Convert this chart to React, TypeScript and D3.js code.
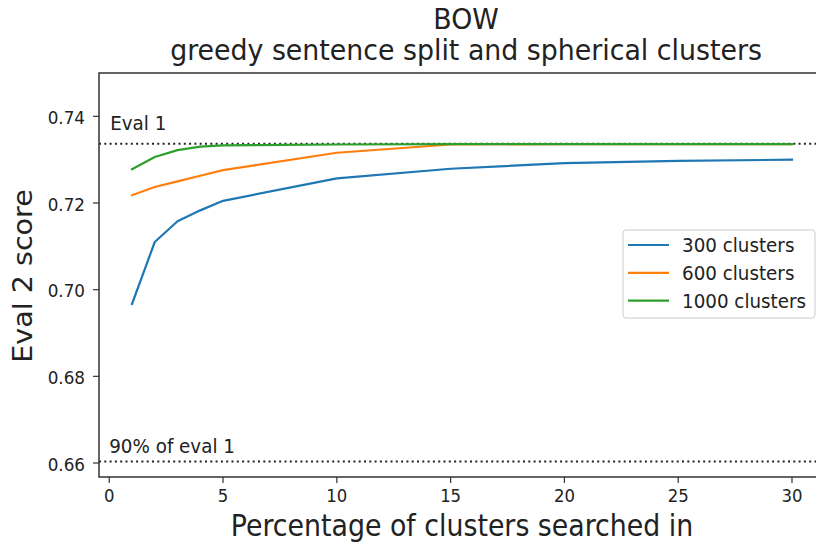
import React from "react";
import * as d3 from "d3";

const xs300 = [1, 2, 3, 4, 5, 10, 15, 20, 25, 30];
const ys300 = [0.6967, 0.7110, 0.7158, 0.7183, 0.7205, 0.7257, 0.7279, 0.7292, 0.7297, 0.7300];
const xs600 = [1, 2, 3, 4, 5, 10, 15, 20, 25, 30];
const ys600 = [0.7218, 0.7237, 0.7250, 0.7263, 0.7276, 0.7316, 0.7335, 0.7336, 0.7336, 0.7336];
const xs1000 = [1, 2, 3, 4, 5, 10, 15, 20, 25, 30];
const ys1000 = [0.7278, 0.7306, 0.7322, 0.7330, 0.7333, 0.7335, 0.7336, 0.7336, 0.7336, 0.7336];
const seriesNames = ["300 clusters", "600 clusters", "1000 clusters"];
const seriesColors = ["#1f77b4", "#ff7f0e", "#2ca02c"];
const eval1 = 0.7337;
const eval1Pct = 0.9;
const xTicks = [0, 5, 10, 15, 20, 25, 30];
const yTicks = [0.66, 0.68, 0.70, 0.72, 0.74];
const titleLines = ["BOW", "greedy sentence split and spherical clusters"];
const xLabel = "Percentage of clusters searched in";
const yLabel = "Eval 2 score";

const W = 816, H = 542;
const left = 99, right = 825, top = 73, bottom = 477;
const FONT = "DejaVu Sans, sans-serif";
const SY = 1.1;

function T(props: { x: number; y: number; size: number; anchor?: string; rot?: boolean; sy?: number; children: React.ReactNode }) {
  const { x, y, size, anchor, rot, sy, children } = props;
  const tr = `translate(${x},${y}) scale(1,${sy ?? SY})${rot ? " rotate(-90)" : ""}`;
  return (
    <text transform={tr} textAnchor={anchor || "start"} fontSize={size} fill="#222">{children}</text>
  );
}

export default function App() {
  const x = d3.scaleLinear().domain([-0.45, 31.45]).range([left, right]);
  const y = d3.scaleLinear().domain([0.65677, 0.75]).range([bottom, top]);
  const line = d3.line<[number, number]>().x(d => x(d[0])).y(d => y(d[1]));
  const series = [
    d3.zip(xs300, ys300) as [number, number][],
    d3.zip(xs600, ys600) as [number, number][],
    d3.zip(xs1000, ys1000) as [number, number][],
  ];
  const cx = (left + right) / 2;
  return (
    <svg width={W} height={H} style={{ position: "absolute", left: 0, top: 0, background: "#fff" }} fontFamily={FONT}>
      <rect x={0} y={0} width={W} height={H} fill="#fff" />
      {/* title */}
      <T x={cx + 4} y={29} size={26.8} sy={1.05} anchor="middle">{titleLines[0]}</T>
      <T x={cx + 4} y={60} size={26.8} sy={1.05} anchor="middle">{titleLines[1]}</T>
      {/* hlines */}
      <line x1={left} x2={right} y1={y(eval1)} y2={y(eval1)} stroke="#222" strokeWidth={2} strokeDasharray="2,3.3" />
      <line x1={left} x2={right} y1={y(eval1 * eval1Pct)} y2={y(eval1 * eval1Pct)} stroke="#222" strokeWidth={2} strokeDasharray="2,3.3" />
      <T x={x(0) + 1} y={129.5} size={18.3}>Eval 1</T>
      <T x={x(0)} y={453} size={18.3}>90% of eval 1</T>
      {/* lines */}
      {series.map((s, i) => (
        <path key={i} d={line(s) || ""} fill="none" stroke={seriesColors[i]} strokeWidth={2.2} strokeLinejoin="round" strokeLinecap="square" />
      ))}
      {/* spines */}
      <rect x={left} y={top} width={right - left} height={bottom - top} fill="none" stroke="#333" strokeWidth={1.5} />
      {/* x ticks */}
      {xTicks.map(t => (
        <g key={t}>
          <line x1={x(t)} x2={x(t)} y1={bottom} y2={bottom + 6} stroke="#333" strokeWidth={1.2} />
          <T x={x(t)} y={502} size={16.5} anchor="middle">{t}</T>
        </g>
      ))}
      {yTicks.map(t => (
        <g key={t}>
          <line x1={left - 6} x2={left} y1={y(t)} y2={y(t)} stroke="#333" strokeWidth={1.2} />
          <T x={85} y={y(t) + 7.5} size={16.8} anchor="end">{t.toFixed(2)}</T>
        </g>
      ))}
      <T x={462} y={536} size={26.8} anchor="middle">{xLabel}</T>
      <T x={32} y={276} size={26} anchor="middle" rot>{yLabel}</T>
      {/* legend */}
      <g>
        <rect x={623} y={230} width={192} height={88} rx={3} fill="#fff" fillOpacity={0.8} stroke="#ccc" strokeWidth={1} />
        {seriesNames.map((n, i) => (
          <g key={n}>
            <line x1={628} x2={669} y1={245 + i * 27.8} y2={245 + i * 27.8} stroke={seriesColors[i]} strokeWidth={2.2} />
            <T x={682} y={245 + i * 27.8 + 7} size={18.3}>{n}</T>
          </g>
        ))}
      </g>
    </svg>
  );
}
